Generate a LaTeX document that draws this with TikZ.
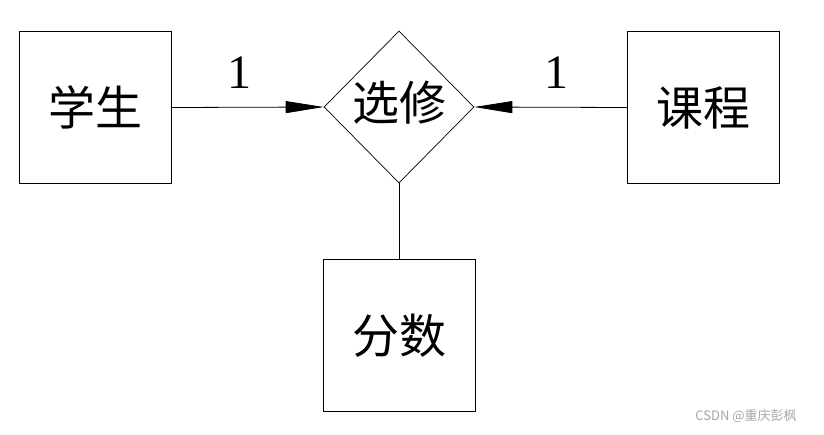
\documentclass[tikz,border=0pt]{standalone}
\usepackage{fontspec}
\setmainfont{Liberation Serif}
\newfontfamily\cjk{Noto Sans CJK SC}
\usetikzlibrary{arrows.meta,shapes.geometric}
\begin{document}
\begin{tikzpicture}[x=1pt,y=-1pt,
  ent/.style={draw,line width=0.9pt,minimum width=152pt,minimum height=152pt,inner sep=0pt,
    font=\cjk\fontsize{47}{50}\selectfont},
  rel/.style={draw,line width=0.7pt,shape=diamond,minimum width=150pt,minimum height=152pt,inner sep=0pt},
  lbl/.style={font=\cjk\fontsize{47}{50}\selectfont,inner sep=0pt},
  num/.style={font=\fontsize{48}{50}\selectfont,inner sep=0pt},
  conn/.style={line width=0.8pt},
  arr/.style={conn,-{Triangle[length=38pt,width=12pt]}}]
\useasboundingbox (0,0) rectangle (824,434);
\node[ent] (stu) at (95.5,107.5) {学生};
\node[ent] (crs) at (703.5,107.5) {课程};
\node[ent] (score) at (399,335.5) {分数};
\node[rel] (sel) at (399,107) {};
\node[lbl] at (399,103) {选修};
\draw[arr] (stu.east) -- (sel.west);
\draw[arr] (crs.west) -- (sel.east);
\draw[conn] (sel.south) -- (score.north);
\node[num] at (239,73) {1};
\node[num] at (556,73) {1};
\node[font=\cjk\fontsize{13}{14}\selectfont,text=black!35,inner sep=0pt] (wm) at (746,416) {CSDN @重庆彭枫};
\end{tikzpicture}
\end{document}
